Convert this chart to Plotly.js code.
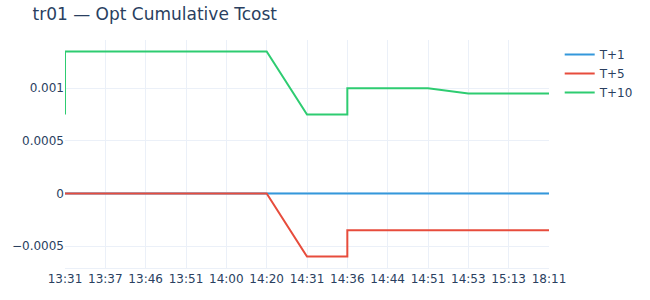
<!DOCTYPE html>
<html>
<head>
<meta charset="utf-8">
<script src="https://cdn.plot.ly/plotly-3.0.1.min.js"></script>
<style>html,body{margin:0;padding:0;background:#fff;}#chart{width:650px;height:300px;}</style>
</head>
<body>
<div id="chart"></div>
<script>
var times = ["13:31","13:31","13:37","13:46","13:51","14:00","14:20","14:31","14:36","14:36","14:44","14:51","14:53","15:13","18:11"];
var t1 =  [0,0,0,0,0,0,0,0,0,0,0,0,0,0,0];
var t5 =  [0,0,0,0,0,0,0,-0.0006,-0.0006,-0.00035,-0.00035,-0.00035,-0.00035,-0.00035,-0.00035];
var t10 = [0.00075,0.00135,0.00135,0.00135,0.00135,0.00135,0.00135,0.00075,0.00075,0.001,0.001,0.001,0.00095,0.00095,0.00095];
var names = ["T+1","T+5","T+10"];
var colors = ["#3498db","#e74c3c","#2ecc71"];
var series = [t1,t5,t10];
var data = series.map(function(s,i){
  return {x: times, y: s, type: "scatter", mode: "lines", name: names[i], line: {color: colors[i], width: 2}};
});
var layout = {
  width: 650, height: 300,
  title: {text: "tr01 — Opt Cumulative Tcost", x: 0.05, xanchor: "left", font: {size: 17, color: "#2a3f5f"}},
  font: {family: '"DejaVu Sans", verdana, sans-serif', size: 12, color: "#2a3f5f"},
  paper_bgcolor: "#fff", plot_bgcolor: "#fff",
  margin: {l: 65, r: 100, t: 40, b: 32},
  xaxis: {type: "category", gridcolor: "#EBF0F8", linecolor: "#EBF0F8", zeroline: false, ticks: "", automargin: false},
  yaxis: {gridcolor: "#EBF0F8", zerolinecolor: "#EBF0F8", zerolinewidth: 2, ticks: "", automargin: false},
  legend: {font: {size: 12}},
  showlegend: true
};
Plotly.newPlot("chart", data, layout, {displayModeBar: false, staticPlot: true});
</script>
</body>
</html>
